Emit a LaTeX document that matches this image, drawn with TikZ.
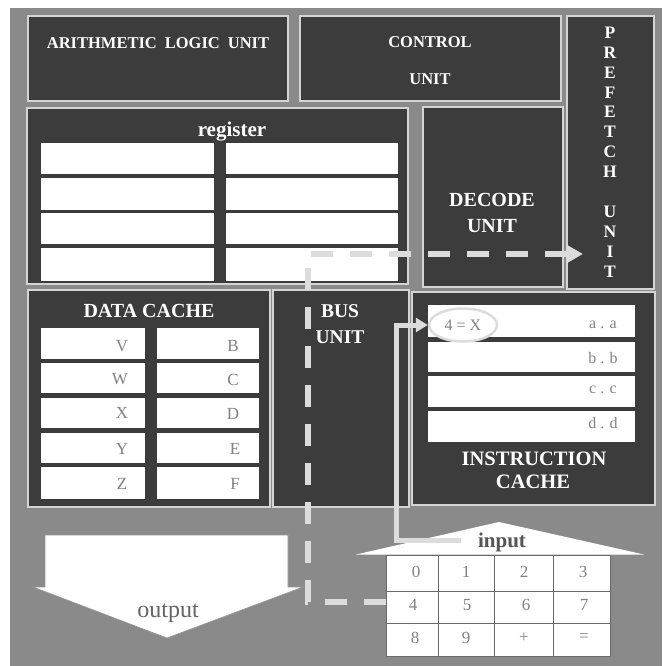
\documentclass[tikz,border=0pt]{standalone}
\usepackage{fontspec}
\setmainfont{Liberation Serif}
\usetikzlibrary{arrows.meta,shapes.geometric,calc}
\definecolor{bgc}{HTML}{8A8A8A}
\definecolor{boxc}{HTML}{3C3C3C}
\definecolor{edgec}{HTML}{D4D4D4}
\definecolor{pathc}{HTML}{DCDCDC}
\definecolor{cellt}{HTML}{828282}
\definecolor{gridc}{HTML}{6A6A6A}
\definecolor{inputc}{HTML}{555555}
\definecolor{outc}{HTML}{666666}
\newcommand{\fsz}[1]{\fontsize{#1}{#1}\selectfont}
\newcommand{\unitbx}[5]{\node[unitbox,minimum width=#4pt,minimum height=#5pt] (#1) at (#2,#3) {};}
\newcommand{\cellbx}[5]{\node[cellbox,minimum width=#4pt,minimum height=#5pt] (#1) at (#2,#3) {};}
\begin{document}
\begin{tikzpicture}[x=1pt,y=-1pt,
  unitbox/.style={draw=edgec,line width=1.2pt,fill=boxc,inner sep=0pt,outer sep=0pt,anchor=north west},
  cellbox/.style={fill=white,inner sep=0pt,outer sep=0pt,anchor=north west},
  ttl/.style={text=white,font=\bfseries\fsz{#1},inner sep=0pt},
  ttl/.default=20,
  celltxt/.style={text=cellt,font=\fsz{17},inner sep=0pt},
  busline/.style={draw=pathc,line width=6.5pt,dash pattern=on 22pt off 17pt},
  feedline/.style={draw=pathc,line width=5pt}]
\useasboundingbox (0,0) rectangle (662,666);
\fill[bgc] (10,8) rectangle (662,666);
% units
\unitbx{alu}{28}{16}{260}{85}
\unitbx{ctrl}{300}{16}{261}{85}
\unitbx{pref}{567}{16}{87}{273}
\unitbx{reg}{27}{108}{381}{176}
\unitbx{dec}{423}{107}{140}{180}
\unitbx{dca}{28}{290}{242}{217}
\unitbx{bus}{273}{290}{136}{217}
\unitbx{ica}{412}{292}{243}{213}
% register cells
\cellbx{r1}{41}{143}{173}{31}
\cellbx{r2}{41}{178}{173}{32}
\cellbx{r3}{41}{213}{173}{31}
\cellbx{r4}{41}{248}{173}{33}
\cellbx{r5}{226}{143}{172}{31}
\cellbx{r6}{226}{178}{172}{32}
\cellbx{r7}{226}{213}{172}{31}
\cellbx{r8}{226}{248}{172}{33}
% data cache cells
\cellbx{v1}{41}{328}{104}{31}
\cellbx{v2}{41}{363}{104}{30}
\cellbx{v3}{41}{398}{104}{30}
\cellbx{v4}{41}{433}{104}{30}
\cellbx{v5}{41}{467}{104}{32}
\cellbx{b1}{157}{328}{102}{31}
\cellbx{b2}{157}{363}{102}{30}
\cellbx{b3}{157}{398}{102}{30}
\cellbx{b4}{157}{433}{102}{30}
\cellbx{b5}{157}{467}{102}{32}
% instruction cache cells
\cellbx{i1}{428}{305}{207}{32}
\cellbx{i2}{428}{342}{207}{30}
\cellbx{i3}{428}{376}{207}{31}
\cellbx{i4}{428}{411}{207}{31}
% titles
\node[ttl=16.5] (alut) at (158,43) {ARITHMETIC\hspace{8pt}LOGIC\hspace{8pt}UNIT};
\node[ttl=16.5] (ctrlt1) at (430,42) {CONTROL};
\node[ttl=16.5] (ctrlt2) at (430,79) {UNIT};
\node[ttl=17,align=center,font=\bfseries\fontsize{17.5}{19.9}\selectfont] (preft) at (610,152) {P\\R\\E\\F\\E\\T\\C\\H\\ \\U\\N\\I\\T};
\node[ttl=21,anchor=base] (regt) at (232,136) {register};
\node[ttl=20] (dect1) at (492,200) {DECODE};
\node[ttl=20] (dect2) at (492,226) {UNIT};
\node[ttl=20] (dcat) at (149,311) {DATA CACHE};
\node[ttl=19.5] (bust1) at (340,311) {BUS};
\node[ttl=19.5] (bust2) at (340,337) {UNIT};
\node[ttl=20.5] (icat1) at (534,459) {INSTRUCTION};
\node[ttl=20.5] (icat2) at (533,482) {CACHE};
% data cache labels
\foreach \t/\x/\y [count=\i] in {V/122/346,W/120/379,X/122/413,Y/122/449,Z/122/484,B/233/346,C/233/380,D/233/414,E/235/449,F/235/484}
  \node[celltxt] (dl\i) at (\x,\y) {\t};
% instruction cache labels
\foreach \t/\y [count=\i] in {a . a/325,b . b/358,c . c/390,d . d/423}
  \node[celltxt,font=\fsz{16}] (il\i) at (603,\y) {\t};
% output arrow
\draw[draw=gray!85,line width=0.6pt,fill=white] (45,535) -- (288,535) -- (288,587) -- (303,587) -- (167,638) -- (33,587) -- (45,587) -- cycle;
\node[font=\fsz{24},text=outc,anchor=base,inner sep=0pt] (outl) at (168,617) {output};
% input arrow + keypad
\fill[white] (356,554.5) -- (499,522) -- (644,554.5) -- cycle;
\node[draw=gridc,line width=0.8pt,fill=white,minimum width=224pt,minimum height=101pt,anchor=north west,inner sep=0pt] (grid) at (386,555) {};
\foreach \x in {438,494,553} \draw[gridc,line width=0.8pt] (\x,555) -- (\x,656);
\foreach \y in {591,623} \draw[gridc,line width=0.8pt] (386,\y) -- (610,\y);
\foreach \t/\x/\y [count=\i] in {0/416/572,1/466/572,2/524/572,3/583/572,4/413/605,5/467/605,6/526/605,7/584/605,8/415/638,9/466/638,+/524/638,=/584/638}
  \node[celltxt] (k\i) at (\x,\y) {\t};
\node[font=\bfseries\fsz{21},text=inputc,anchor=base,inner sep=0pt] (inl) at (502,547) {input};
% bus path
\coordinate (c1) at (308,602);
\coordinate (c2) at (308,254);
\draw[busline,-{Triangle[length=16pt,width=17pt]}] (grid.west |- c1) -- (c1) -- (c2) -- ([xshift=16pt]pref.west |- c2);
% feed path to instruction cache
\node[ellipse,draw=pathc,line width=2.5pt,fill=white,minimum width=68pt,minimum height=33pt,inner sep=0pt,text=cellt,font=\fsz{16}] (eq) at (463,325) {4 = X};
\coordinate (s1) at (461,540);
\coordinate (s2) at (396,540);
\draw[feedline,-{Triangle[length=12pt,width=14pt]}] (s1) -- (s2) -- (s2 |- eq.west) -- (eq.west);
\end{tikzpicture}
\end{document}
